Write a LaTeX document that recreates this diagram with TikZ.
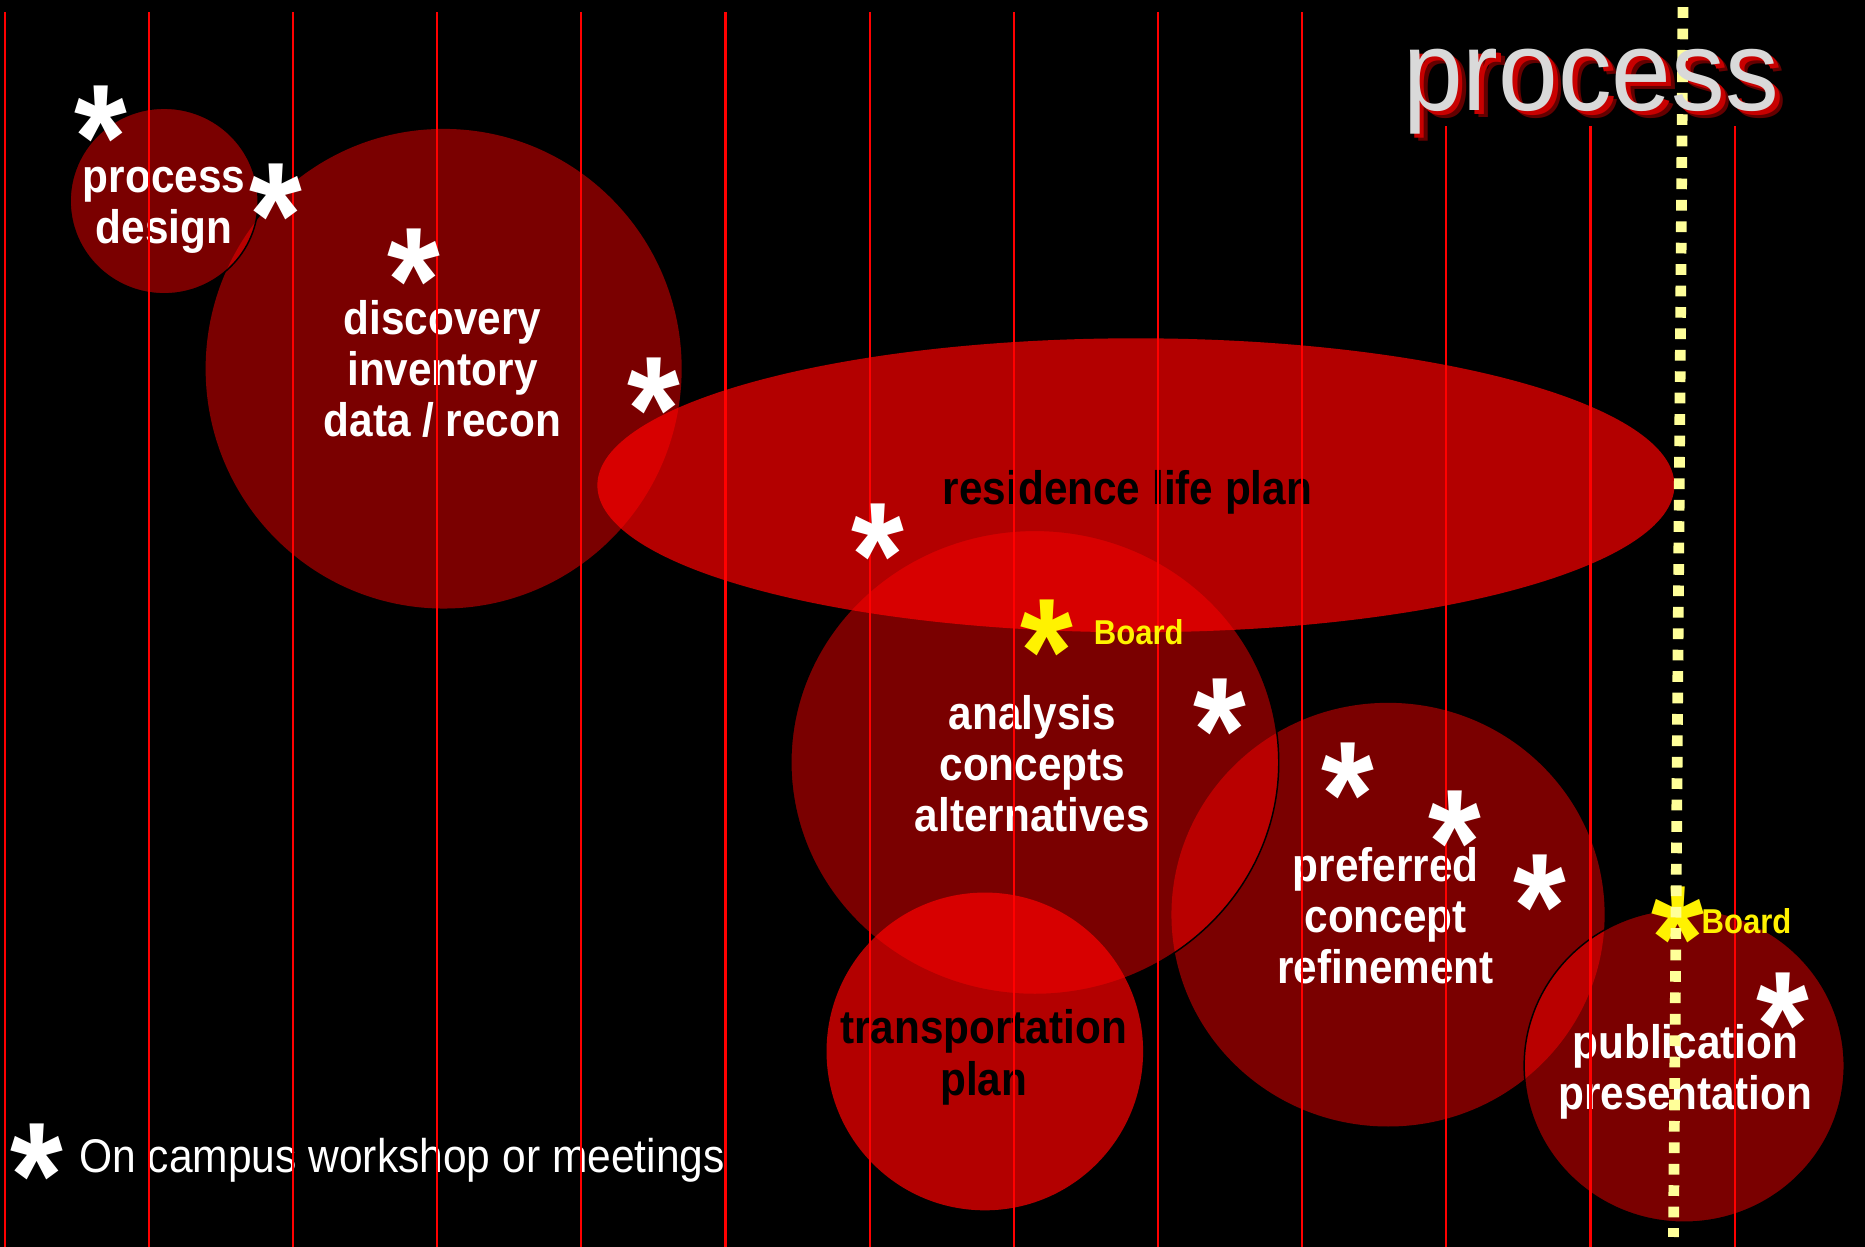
\documentclass[tikz,border=0pt]{standalone}
\usepackage{fontspec}
\usetikzlibrary{shapes.geometric}
\setmainfont{Liberation Sans}
\newfontfamily\cf[FakeStretch=0.9]{Liberation Sans}
\newfontfamily\tf[FakeStretch=0.94]{Liberation Sans}
\newcommand\lblfont{\cf\bfseries\fontsize{11.24}{12.23}\selectfont}
\newcommand\legfont{\cf\fontsize{11.3}{12.23}\selectfont}
\newcommand\astfont{\cf\bfseries\fontsize{36}{36}\selectfont}
\newcommand\boardfont{\cf\bfseries\fontsize{8.25}{9}\selectfont}
\newcommand\titlefont{\tf\fontsize{27.3}{30}\selectfont}
\definecolor{dotyellow}{RGB}{255,255,153}
\definecolor{titlegray}{RGB}{217,217,217}
\definecolor{shadowred}{RGB}{200,0,0}
\begin{document}
\begin{tikzpicture}[x=0.01cm, y=-0.01cm,
  darkshape/.style={ellipse, fill=red, fill opacity=0.48, inner sep=0},
  brightshape/.style={ellipse, fill=red, fill opacity=0.7, inner sep=0},
  rim/.style={draw=black, line width=0.35pt},
  wtxt/.style={font=\lblfont, text=white, align=center, inner sep=0},
  btxt/.style={font=\lblfont, text=black, align=center, inner sep=0},
  gridline/.style={draw=red, line width=0.5pt},
  astk/.style={font=\astfont, text=white, anchor=base, inner sep=0, yshift=-18.4pt},
  yastk/.style={astk, text=yellow},
  board/.style={font=\boardfont, text=yellow, anchor=base west, inner sep=0},
  dotline/.style={draw=dotyellow, line width=0.09cm, dash pattern=on 0.09cm off 0.09cm}
]
\useasboundingbox (0,0) rectangle (1568,1048);
\fill[black] (0,0) rectangle (1568,1048);

% shapes
\node[darkshape, minimum width=4cm, minimum height=4.03cm] (disc) at (373,310) {};
\node[darkshape, rim, minimum width=1.58cm, minimum height=1.56cm] (proc) at (138,169) {};
\node[darkshape, minimum width=3.64cm, minimum height=3.56cm] (pref) at (1167,769) {};
\node[darkshape, rim, minimum width=4.1cm, minimum height=3.9cm] (anal) at (870,641) {};
\node[brightshape, minimum width=9.05cm, minimum height=2.47cm] (resi) at (955,408) {};
\node[brightshape, minimum width=2.66cm, minimum height=2.67cm] (trans) at (828,884) {};
\node[darkshape, rim, minimum width=2.69cm, minimum height=2.63cm] (publ) at (1416,896) {};

% texts
\node[wtxt] (proct) at (138,177) {process\\design};
\node[wtxt] (disct) at (372,310) {discovery\\inventory\\data / recon};
\node[btxt] (resit) at (948,414) {residence life plan};
\node[wtxt] (analt) at (868,642) {analysis\\concepts\\alternatives};
\node[btxt] (transt) at (827,889) {transportation\\plan};
\node[wtxt] (preft) at (1165,770) {preferred\\concept\\refinement};
\node[wtxt] (publt) at (1417,901) {publication\\presentation};
\node[font=\legfont, text=white, anchor=base west, inner sep=0] (legt) at (66,986) {On campus workshop or meetings};

% grid lines
\foreach \k in {0,...,9} \draw[gridline] (4+121.2*\k,10) -- (4+121.2*\k,1048);
\foreach \k in {10,11,12} \draw[gridline] (4+121.2*\k,106) -- (4+121.2*\k,1048);

% asterisks
\node[astk] (a1) at (85,95) {*};
\node[astk] (a2) at (232,160) {*};
\node[astk] (a3) at (348,215) {*};
\node[astk] (a4) at (550,323) {*};
\node[astk] (a5) at (738,446) {*};
\node[astk] (a6) at (1026,593) {*};
\node[astk] (a7) at (1133,647) {*};
\node[astk] (a8) at (1223,687) {*};
\node[astk] (a9) at (1295,741) {*};
\node[astk] (a10) at (1499,840) {*};
\node[astk] (a11) at (31,967) {*};
\node[yastk] (y1) at (880,527) {*};
\node[yastk] (y2) at (1411,768) {*};
\node[board] (b1) at (919,542) {Board};
\node[board] (b2) at (1430,785) {Board};

% title
\node[font=\titlefont, text=shadowred, opacity=0.5, anchor=base west, inner sep=0] (tsh2) at (1186,99) {process};
\node[font=\titlefont, text=shadowred, anchor=base west, inner sep=0] (tsh) at (1183,96) {process};
\coordinate (dtop) at (1415,6);
\coordinate (dbot) at (1407,1040);
\draw[dotline] (dtop) -- (dbot);
\node[font=\titlefont, text=titlegray, anchor=base west, inner sep=0] (title) at (1179,92.5) {process};
\end{tikzpicture}
\end{document}
